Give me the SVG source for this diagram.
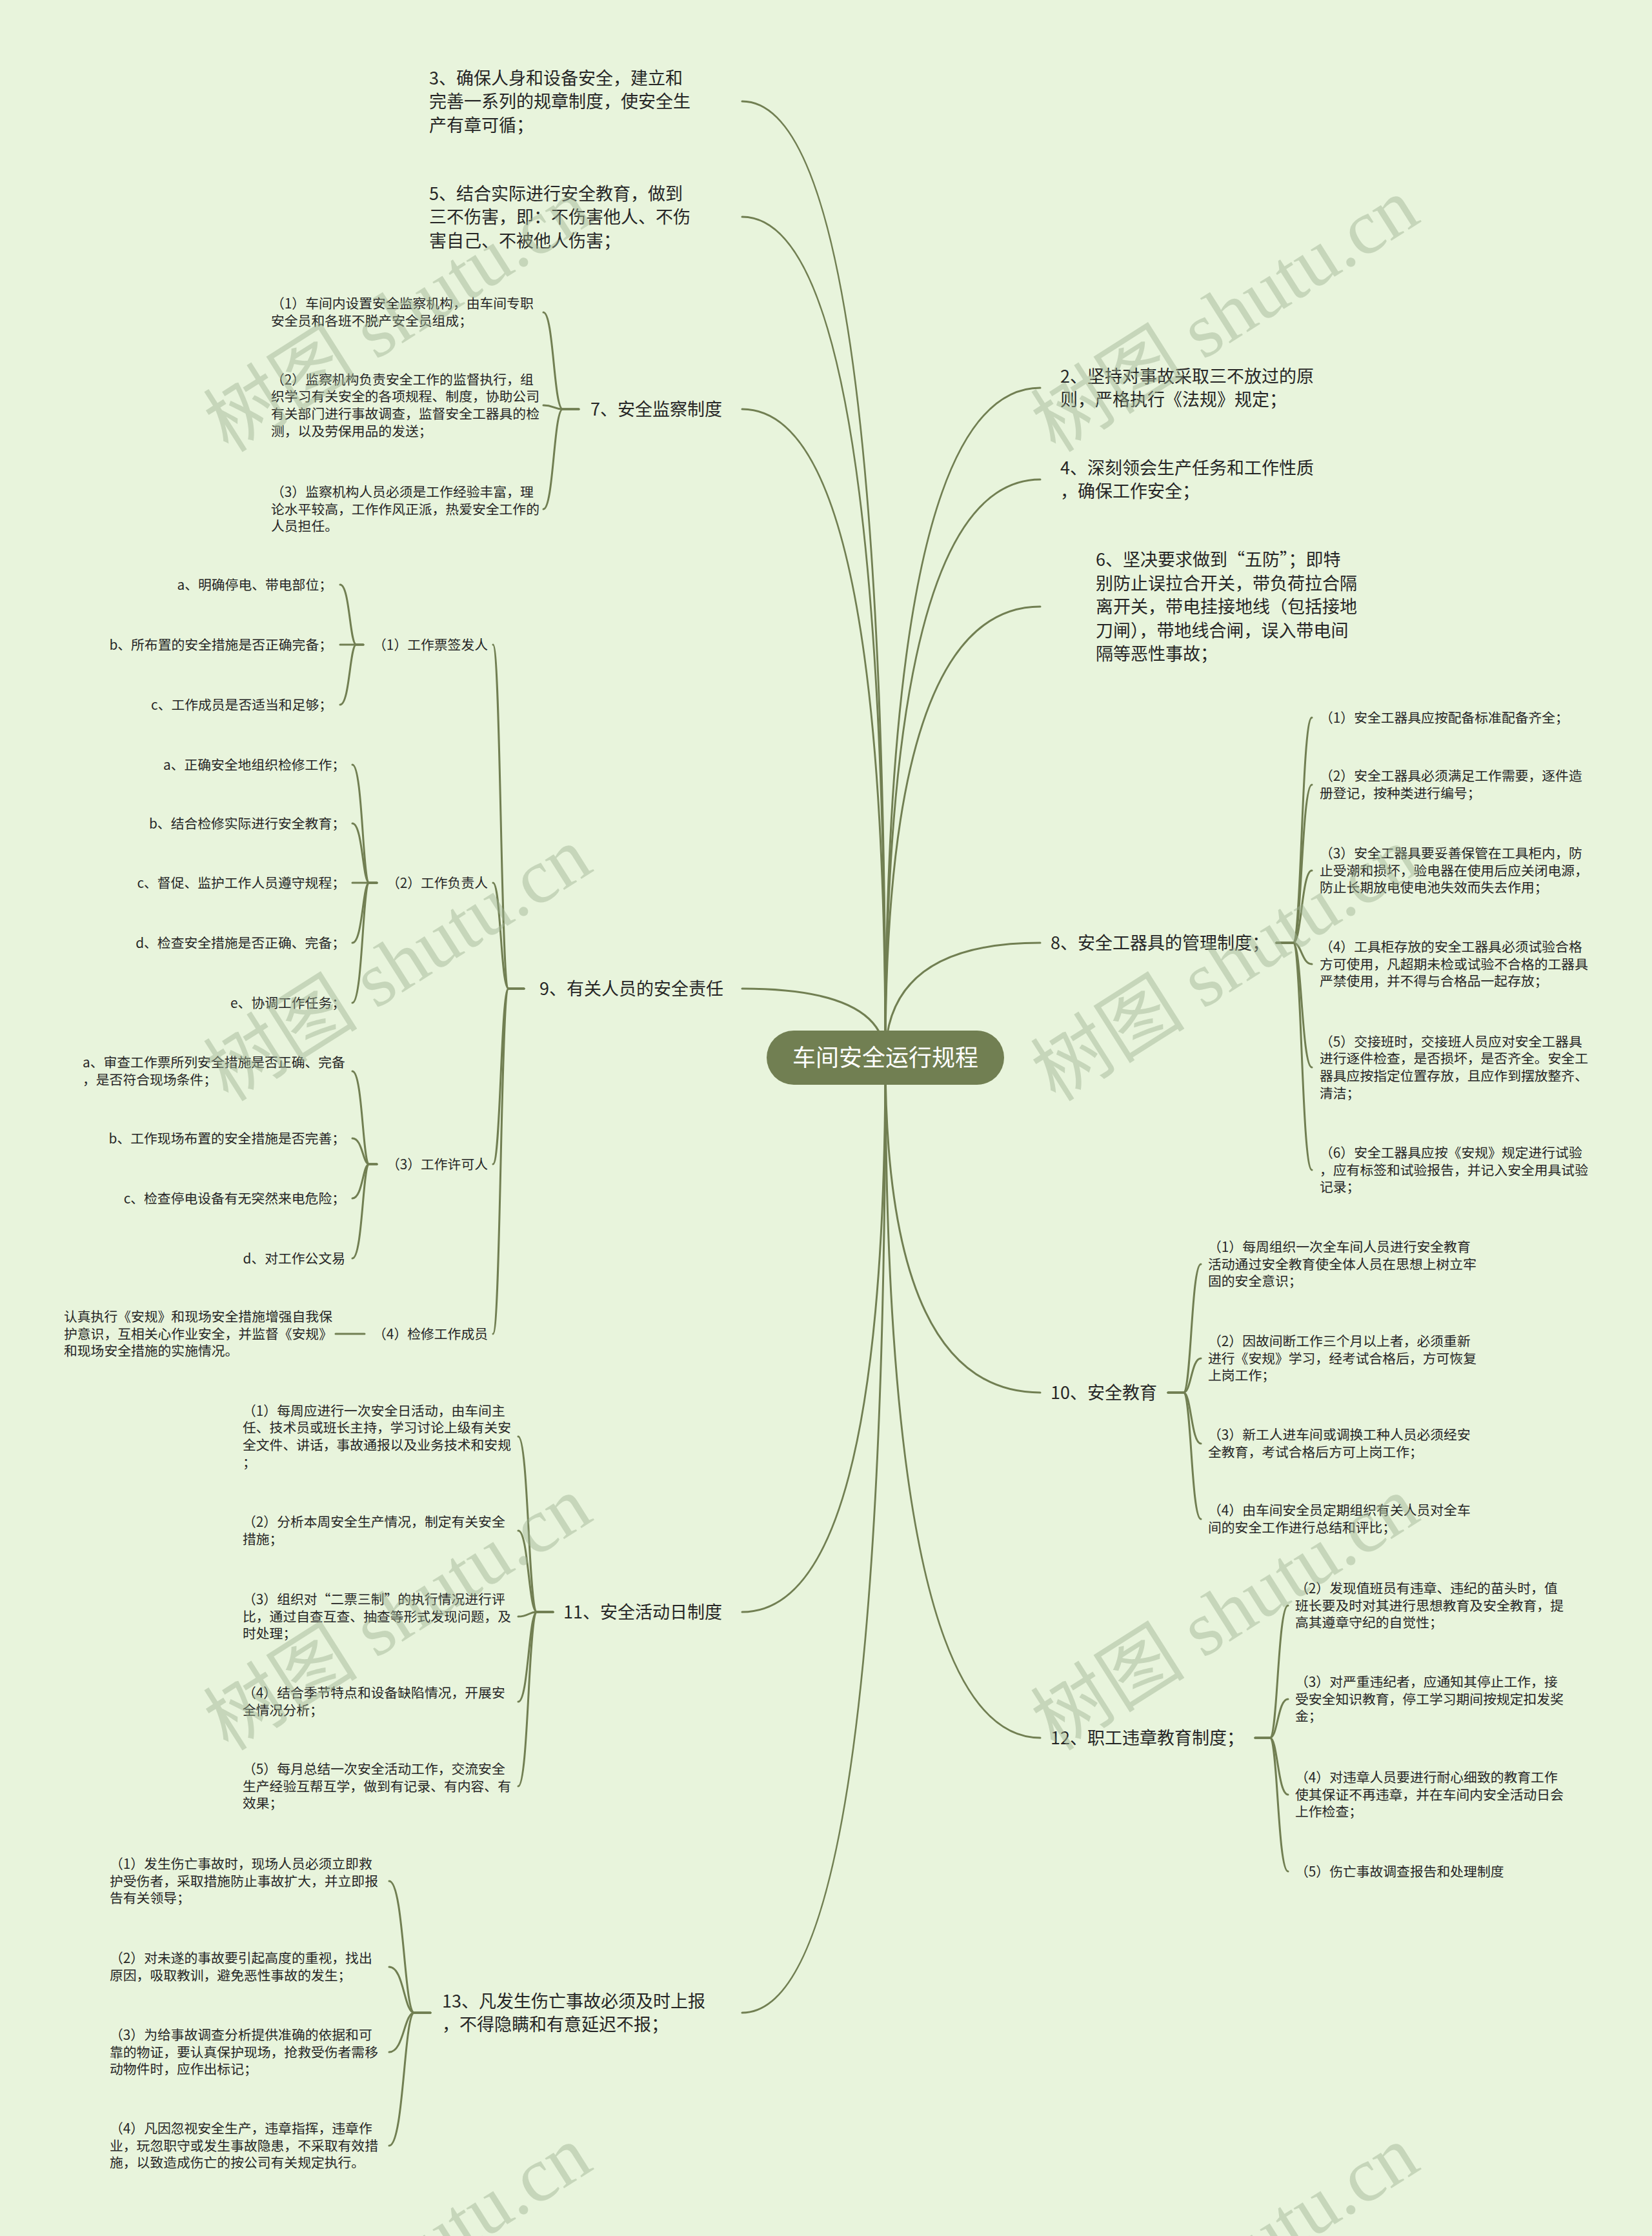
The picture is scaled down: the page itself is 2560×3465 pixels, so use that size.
<svg xmlns="http://www.w3.org/2000/svg" width="2560" height="3465" viewBox="0 0 2560 3465">
<style>
text{font-family:"Noto Sans CJK SC","Noto Sans CJK JP",sans-serif;fill:#262626}
.t1{font-size:27px}
.t2{font-size:20.8px}
.e{text-anchor:end}
.root{font-size:36px;fill:#ffffff;text-anchor:middle}
.wm{font-family:"Liberation Serif","Noto Sans CJK SC",serif;font-size:120px;fill:#9fb293;opacity:0.45}
</style>
<rect x="0" y="0" width="2560" height="3465" fill="#e8f4dc"/>
<g id="connectors" fill="none" stroke="#717f52" stroke-width="3" stroke-linecap="round">
<path d="M1372 1639 Q1372 157 1150 157"/>
<path d="M1372 1639 Q1372 336 1150 336"/>
<path d="M1372 1639 Q1372 634 1150 634"/>
<path d="M1372 1639 Q1372 1532 1150 1532"/>
<path d="M1372 1639 Q1372 2498 1150 2498"/>
<path d="M1372 1639 Q1372 3119 1150 3119"/>
<path d="M1372 1639 Q1372 601 1612 601"/>
<path d="M1372 1639 Q1372 743 1612 743"/>
<path d="M1372 1639 Q1372 940 1612 940"/>
<path d="M1372 1639 Q1372 1461 1612 1461"/>
<path d="M1372 1639 Q1372 2158 1612 2158"/>
<path d="M1372 1639 Q1372 2693 1612 2693"/>
<path d="M897 634 H872 C858 634 858 484 842 484"/>
<path d="M897 634 H872 C858 634 858 628 842 628"/>
<path d="M897 634 H872 C858 634 858 789 842 789"/>
<path d="M812 1532 H788 C776 1532 776 999 764 999"/>
<path d="M812 1532 H788 C776 1532 776 1368 764 1368"/>
<path d="M812 1532 H788 C776 1532 776 1804 764 1804"/>
<path d="M812 1532 H788 C776 1532 776 2067 764 2067"/>
<path d="M563 999 H552 C542 999 542 906 527 906"/>
<path d="M563 999 H552 C542 999 542 999 527 999"/>
<path d="M563 999 H552 C542 999 542 1092 527 1092"/>
<path d="M584 1368 H572 C562 1368 562 1185 546 1185"/>
<path d="M584 1368 H572 C562 1368 562 1276 546 1276"/>
<path d="M584 1368 H572 C562 1368 562 1368 546 1368"/>
<path d="M584 1368 H572 C562 1368 562 1461 546 1461"/>
<path d="M584 1368 H572 C562 1368 562 1554 546 1554"/>
<path d="M584 1804 H572 C562 1804 562 1660 546 1660"/>
<path d="M584 1804 H572 C562 1804 562 1764 546 1764"/>
<path d="M584 1804 H572 C562 1804 562 1857 546 1857"/>
<path d="M584 1804 H572 C562 1804 562 1950 546 1950"/>
<path d="M565 2067 H520"/>
<path d="M857 2498 H832 C819 2498 819 2226 803 2226"/>
<path d="M857 2498 H832 C819 2498 819 2372 803 2372"/>
<path d="M857 2498 H832 C819 2498 819 2505 803 2505"/>
<path d="M857 2498 H832 C819 2498 819 2637 803 2637"/>
<path d="M857 2498 H832 C819 2498 819 2768 803 2768"/>
<path d="M667 3119 H642 C626 3119 626 2915 603 2915"/>
<path d="M667 3119 H642 C626 3119 626 3048 603 3048"/>
<path d="M667 3119 H642 C626 3119 626 3180 603 3180"/>
<path d="M667 3119 H642 C626 3119 626 3325 603 3325"/>
<path d="M1978 1461 H2004 C2017 1461 2017 1112 2033 1112"/>
<path d="M1978 1461 H2004 C2017 1461 2017 1216 2033 1216"/>
<path d="M1978 1461 H2004 C2017 1461 2017 1349 2033 1349"/>
<path d="M1978 1461 H2004 C2017 1461 2017 1494 2033 1494"/>
<path d="M1978 1461 H2004 C2017 1461 2017 1654 2033 1654"/>
<path d="M1978 1461 H2004 C2017 1461 2017 1813 2033 1813"/>
<path d="M1810 2158 H1834 C1846 2158 1846 1959 1861 1959"/>
<path d="M1810 2158 H1834 C1846 2158 1846 2105 1861 2105"/>
<path d="M1810 2158 H1834 C1846 2158 1846 2237 1861 2237"/>
<path d="M1810 2158 H1834 C1846 2158 1846 2354 1861 2354"/>
<path d="M1945 2693 H1968 C1980 2693 1980 2488 1996 2488"/>
<path d="M1945 2693 H1968 C1980 2693 1980 2633 1996 2633"/>
<path d="M1945 2693 H1968 C1980 2693 1980 2781 1996 2781"/>
<path d="M1945 2693 H1968 C1980 2693 1980 2900 1996 2900"/>
</g>
<g id="root">
<rect x="1188" y="1597" width="368" height="84" rx="42" fill="#717f52"/>
<text class="root" x="1372" y="1652">车间安全运行规程</text>
</g>
<g id="n3"><text class="t1"><tspan x="665" y="130.5">3、确保人身和设备安全，建立和</tspan><tspan x="665" y="167">完善一系列的规章制度，使安全生</tspan><tspan x="665" y="203.5">产有章可循；</tspan></text></g>
<g id="n5"><text class="t1"><tspan x="665" y="309.5">5、结合实际进行安全教育，做到</tspan><tspan x="665" y="346">三不伤害，即：不伤害他人、不伤</tspan><tspan x="665" y="382.5">害自己、不被他人伤害；</tspan></text></g>
<g id="n7"><text class="t1" x="915" y="644">7、安全监察制度</text></g>
<g id="n7-1"><text class="t2"><tspan x="420" y="478.4">（1）车间内设置安全监察机构，由车间专职</tspan><tspan x="420" y="505">安全员和各班不脱产安全员组成；</tspan></text></g>
<g id="n7-2"><text class="t2"><tspan x="420" y="595.8">（2）监察机构负责安全工作的监督执行，组</tspan><tspan x="420" y="622.4">织学习有关安全的各项规程、制度，协助公司</tspan><tspan x="420" y="649">有关部门进行事故调查，监督安全工器具的检</tspan><tspan x="420" y="675.6">测，以及劳保用品的发送；</tspan></text></g>
<g id="n7-3"><text class="t2"><tspan x="420" y="770.1">（3）监察机构人员必须是工作经验丰富，理</tspan><tspan x="420" y="796.7">论水平较高，工作作风正派，热爱安全工作的</tspan><tspan x="420" y="823.3">人员担任。</tspan></text></g>
<g id="n9"><text class="t1" x="836" y="1542">9、有关人员的安全责任</text></g>
<g id="n9-1"><text class="t2 e" x="756" y="1006.7">（1）工作票签发人</text></g>
<g id="n9-1a"><text class="t2 e" x="515" y="913.7">a、明确停电、带电部位；</text></g>
<g id="n9-1b"><text class="t2 e" x="515" y="1006.7">b、所布置的安全措施是否正确完备；</text></g>
<g id="n9-1c"><text class="t2 e" x="515" y="1099.7">c、工作成员是否适当和足够；</text></g>
<g id="n9-2"><text class="t2 e" x="756" y="1375.7">（2）工作负责人</text></g>
<g id="n9-2a"><text class="t2 e" x="535" y="1192.7">a、正确安全地组织检修工作；</text></g>
<g id="n9-2b"><text class="t2 e" x="535" y="1283.7">b、结合检修实际进行安全教育；</text></g>
<g id="n9-2c"><text class="t2 e" x="535" y="1375.7">c、督促、监护工作人员遵守规程；</text></g>
<g id="n9-2d"><text class="t2 e" x="535" y="1468.7">d、检查安全措施是否正确、完备；</text></g>
<g id="n9-2e"><text class="t2 e" x="535" y="1561.7">e、协调工作任务；</text></g>
<g id="n9-3"><text class="t2 e" x="756" y="1811.7">（3）工作许可人</text></g>
<g id="n9-3a"><text class="t2"><tspan x="128" y="1654.4">a、审查工作票所列安全措施是否正确、完备</tspan><tspan x="128" y="1681">，是否符合现场条件；</tspan></text></g>
<g id="n9-3b"><text class="t2 e" x="535" y="1771.7">b、工作现场布置的安全措施是否完善；</text></g>
<g id="n9-3c"><text class="t2 e" x="535" y="1864.7">c、检查停电设备有无突然来电危险；</text></g>
<g id="n9-3d"><text class="t2 e" x="535" y="1957.7">d、对工作公文易</text></g>
<g id="n9-4"><text class="t2 e" x="756" y="2074.7">（4）检修工作成员</text></g>
<g id="n9-4a"><text class="t2"><tspan x="99" y="2048.1">认真执行《安规》和现场安全措施增强自我保</tspan><tspan x="99" y="2074.7">护意识，互相关心作业安全，并监督《安规》</tspan><tspan x="99" y="2101.3">和现场安全措施的实施情况。</tspan></text></g>
<g id="n11"><text class="t1" x="873" y="2508">11、安全活动日制度</text></g>
<g id="n11-1"><text class="t2"><tspan x="376" y="2193.8">（1）每周应进行一次安全日活动，由车间主</tspan><tspan x="376" y="2220.4">任、技术员或班长主持，学习讨论上级有关安</tspan><tspan x="376" y="2247">全文件、讲话，事故通报以及业务技术和安规</tspan><tspan x="376" y="2273.6">；</tspan></text></g>
<g id="n11-2"><text class="t2"><tspan x="376" y="2366.4">（2）分析本周安全生产情况，制定有关安全</tspan><tspan x="376" y="2393">措施；</tspan></text></g>
<g id="n11-3"><text class="t2"><tspan x="376" y="2486.1">（3）组织对“二票三制”的执行情况进行评</tspan><tspan x="376" y="2512.7">比，通过自查互查、抽查等形式发现问题，及</tspan><tspan x="376" y="2539.3">时处理；</tspan></text></g>
<g id="n11-4"><text class="t2"><tspan x="376" y="2631.4">（4）结合季节特点和设备缺陷情况，开展安</tspan><tspan x="376" y="2658">全情况分析；</tspan></text></g>
<g id="n11-5"><text class="t2"><tspan x="376" y="2749.1">（5）每月总结一次安全活动工作，交流安全</tspan><tspan x="376" y="2775.7">生产经验互帮互学，做到有记录、有内容、有</tspan><tspan x="376" y="2802.3">效果；</tspan></text></g>
<g id="n13"><text class="t1"><tspan x="685" y="3110.75">13、凡发生伤亡事故必须及时上报</tspan><tspan x="685" y="3147.25">，不得隐瞒和有意延迟不报；</tspan></text></g>
<g id="n13-1"><text class="t2"><tspan x="170" y="2896.1">（1）发生伤亡事故时，现场人员必须立即救</tspan><tspan x="170" y="2922.7">护受伤者，采取措施防止事故扩大，并立即报</tspan><tspan x="170" y="2949.3">告有关领导；</tspan></text></g>
<g id="n13-2"><text class="t2"><tspan x="170" y="3042.4">（2）对未遂的事故要引起高度的重视，找出</tspan><tspan x="170" y="3069">原因，吸取教训，避免恶性事故的发生；</tspan></text></g>
<g id="n13-3"><text class="t2"><tspan x="170" y="3161.1">（3）为给事故调查分析提供准确的依据和可</tspan><tspan x="170" y="3187.7">靠的物证，要认真保护现场，抢救受伤者需移</tspan><tspan x="170" y="3214.3">动物件时，应作出标记；</tspan></text></g>
<g id="n13-4"><text class="t2"><tspan x="170" y="3306.1">（4）凡因忽视安全生产，违章指挥，违章作</tspan><tspan x="170" y="3332.7">业，玩忽职守或发生事故隐患，不采取有效措</tspan><tspan x="170" y="3359.3">施，以致造成伤亡的按公司有关规定执行。</tspan></text></g>
<g id="n2"><text class="t1"><tspan x="1643" y="592.75">2、坚持对事故采取三不放过的原</tspan><tspan x="1643" y="629.25">则，严格执行《法规》规定；</tspan></text></g>
<g id="n4"><text class="t1"><tspan x="1643" y="734.75">4、深刻领会生产任务和工作性质</tspan><tspan x="1643" y="771.25">，确保工作安全；</tspan></text></g>
<g id="n6"><text class="t1"><tspan x="1698" y="877">6、坚决要求做到“五防”；即特</tspan><tspan x="1698" y="913.5">别防止误拉合开关，带负荷拉合隔</tspan><tspan x="1698" y="950">离开关，带电挂接地线（包括接地</tspan><tspan x="1698" y="986.5">刀闸），带地线合闸，误入带电间</tspan><tspan x="1698" y="1023">隔等恶性事故；</tspan></text></g>
<g id="n8"><text class="t1" x="1628" y="1471">8、安全工器具的管理制度；</text></g>
<g id="n8-1"><text class="t2" x="2045" y="1119.7">（1）安全工器具应按配备标准配备齐全；</text></g>
<g id="n8-2"><text class="t2"><tspan x="2045" y="1210.4">（2）安全工器具必须满足工作需要，逐件造</tspan><tspan x="2045" y="1237">册登记，按种类进行编号；</tspan></text></g>
<g id="n8-3"><text class="t2"><tspan x="2045" y="1330.1">（3）安全工器具要妥善保管在工具柜内，防</tspan><tspan x="2045" y="1356.7">止受潮和损坏，验电器在使用后应关闭电源，</tspan><tspan x="2045" y="1383.3">防止长期放电使电池失效而失去作用；</tspan></text></g>
<g id="n8-4"><text class="t2"><tspan x="2045" y="1475.1">（4）工具柜存放的安全工器具必须试验合格</tspan><tspan x="2045" y="1501.7">方可使用，凡超期未检或试验不合格的工器具</tspan><tspan x="2045" y="1528.3">严禁使用，并不得与合格品一起存放；</tspan></text></g>
<g id="n8-5"><text class="t2"><tspan x="2045" y="1621.8">（5）交接班时，交接班人员应对安全工器具</tspan><tspan x="2045" y="1648.4">进行逐件检查，是否损坏，是否齐全。安全工</tspan><tspan x="2045" y="1675">器具应按指定位置存放，且应作到摆放整齐、</tspan><tspan x="2045" y="1701.6">清洁；</tspan></text></g>
<g id="n8-6"><text class="t2"><tspan x="2045" y="1794.1">（6）安全工器具应按《安规》规定进行试验</tspan><tspan x="2045" y="1820.7">，应有标签和试验报告，并记入安全用具试验</tspan><tspan x="2045" y="1847.3">记录；</tspan></text></g>
<g id="n10"><text class="t1" x="1628" y="2168">10、安全教育</text></g>
<g id="n10-1"><text class="t2"><tspan x="1872" y="1940.1">（1）每周组织一次全车间人员进行安全教育</tspan><tspan x="1872" y="1966.7">活动通过安全教育使全体人员在思想上树立牢</tspan><tspan x="1872" y="1993.3">固的安全意识；</tspan></text></g>
<g id="n10-2"><text class="t2"><tspan x="1872" y="2086.1">（2）因故间断工作三个月以上者，必须重新</tspan><tspan x="1872" y="2112.7">进行《安规》学习，经考试合格后，方可恢复</tspan><tspan x="1872" y="2139.3">上岗工作；</tspan></text></g>
<g id="n10-3"><text class="t2"><tspan x="1872" y="2231.4">（3）新工人进车间或调换工种人员必须经安</tspan><tspan x="1872" y="2258">全教育，考试合格后方可上岗工作；</tspan></text></g>
<g id="n10-4"><text class="t2"><tspan x="1872" y="2348.4">（4）由车间安全员定期组织有关人员对全车</tspan><tspan x="1872" y="2375">间的安全工作进行总结和评比；</tspan></text></g>
<g id="n12"><text class="t1" x="1628" y="2703">12、职工违章教育制度；</text></g>
<g id="n12-2"><text class="t2"><tspan x="2007" y="2469.1">（2）发现值班员有违章、违纪的苗头时，值</tspan><tspan x="2007" y="2495.7">班长要及时对其进行思想教育及安全教育，提</tspan><tspan x="2007" y="2522.3">高其遵章守纪的自觉性；</tspan></text></g>
<g id="n12-3"><text class="t2"><tspan x="2007" y="2614.1">（3）对严重违纪者，应通知其停止工作，接</tspan><tspan x="2007" y="2640.7">受安全知识教育，停工学习期间按规定扣发奖</tspan><tspan x="2007" y="2667.3">金；</tspan></text></g>
<g id="n12-4"><text class="t2"><tspan x="2007" y="2762.1">（4）对违章人员要进行耐心细致的教育工作</tspan><tspan x="2007" y="2788.7">使其保证不再违章，并在车间内安全活动日会</tspan><tspan x="2007" y="2815.3">上作检查；</tspan></text></g>
<g id="n12-5"><text class="t2" x="2007" y="2907.7">（5）伤亡事故调查报告和处理制度</text></g>
<g id="watermarks">
<text class="wm" transform="translate(354 703) rotate(-32.4)">树图 shutu.cn</text>
<text class="wm" transform="translate(1636 703) rotate(-32.4)">树图 shutu.cn</text>
<text class="wm" transform="translate(354 1709) rotate(-32.4)">树图 shutu.cn</text>
<text class="wm" transform="translate(1636 1709) rotate(-32.4)">树图 shutu.cn</text>
<text class="wm" transform="translate(354 2715) rotate(-32.4)">树图 shutu.cn</text>
<text class="wm" transform="translate(1636 2715) rotate(-32.4)">树图 shutu.cn</text>
<text class="wm" transform="translate(354 3721) rotate(-32.4)">树图 shutu.cn</text>
<text class="wm" transform="translate(1636 3721) rotate(-32.4)">树图 shutu.cn</text>
</g>
</svg>
